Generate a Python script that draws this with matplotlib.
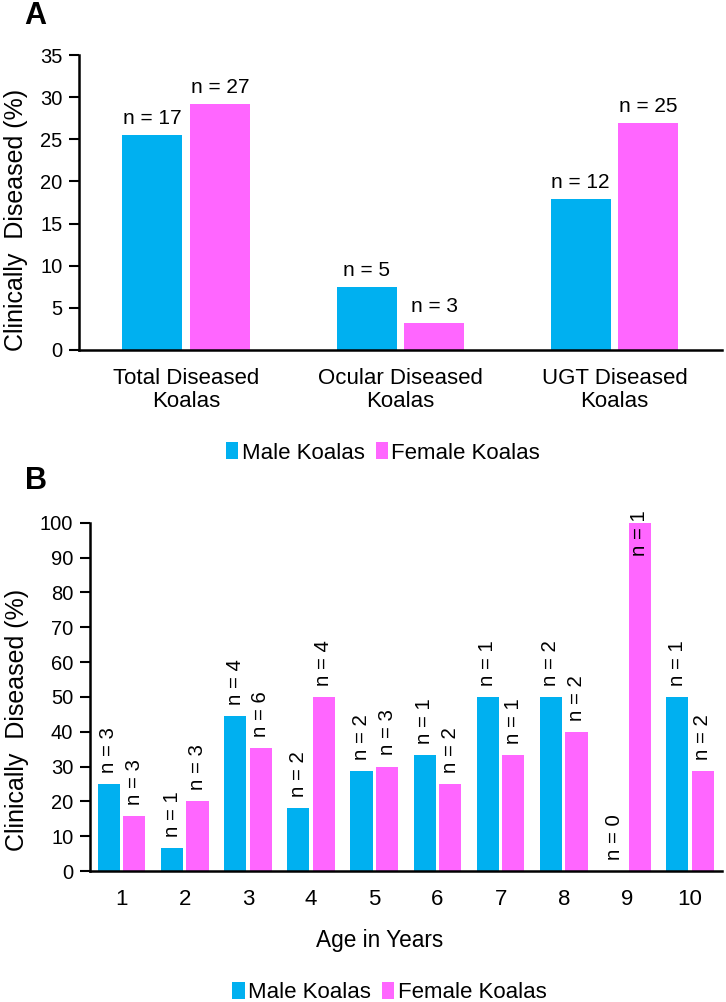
import matplotlib.pyplot as plt
import numpy as np

plt.rcParams['font.family'] = ['Liberation Sans', 'DejaVu Sans']

MALE = '#00B0F0'
FEMALE = '#FF66FF'

# panel A
groups = ['Total Diseased\nKoalas', 'Ocular Diseased\nKoalas', 'UGT Diseased\nKoalas']
male_a = [25.5, 7.5, 17.9]
female_a = [29.2, 3.2, 26.9]
male_n_a = [17, 5, 12]
female_n_a = [27, 3, 25]

# panel B
ages = ['1', '2', '3', '4', '5', '6', '7', '8', '9', '10']
male_b = [25.0, 6.7, 44.4, 18.2, 28.6, 33.3, 50.0, 50.0, 0.0, 50.0]
female_b = [15.8, 20.0, 35.3, 50.0, 30.0, 25.0, 33.3, 40.0, 100.0, 28.6]
male_n_b = [3, 1, 4, 2, 2, 1, 1, 2, 0, 1]
female_n_b = [3, 3, 6, 4, 3, 2, 1, 2, 1, 2]

fig = plt.figure(figsize=(7.26, 10.02), dpi=100)
axA = fig.add_axes([0.109, 0.6507, 0.885, 0.2944])
axB = fig.add_axes([0.124, 0.1307, 0.870, 0.3476])

def style(ax, pad):
    for s in ['top', 'right']:
        ax.spines[s].set_visible(False)
    for s in ['left', 'bottom']:
        ax.spines[s].set_linewidth(1.8)
    ax.tick_params(axis='y', length=7, width=1.5, labelsize=14.5, pad=5)
    ax.tick_params(axis='x', length=0, labelsize=16, pad=pad)
    ax.set_ylabel('Clinically  Diseased (%)', fontsize=18, va='center')

# A
x = np.arange(len(groups))
w, g = 0.28, 0.018
bm = axA.bar(x - w/2 - g, male_a, w, color=MALE, label='Male Koalas')
bf = axA.bar(x + w/2 + g, female_a, w, color=FEMALE, label='Female Koalas')
for bars, ns in [(bm, male_n_a), (bf, female_n_a)]:
    for b, n in zip(bars, ns):
        axA.annotate(f'n = {n}', (b.get_x() + b.get_width()/2, b.get_height()), xytext=(0, 5),
                     textcoords='offset points', ha='center', va='bottom', fontsize=15)
axA.set_xlim(-0.5, 2.5)
axA.set_ylim(0, 35)
axA.set_yticks(np.arange(0, 36, 5))
axA.set_xticks(x)
axA.set_xticklabels(groups, linespacing=1.15)
style(axA, 13)
axA.yaxis.set_label_coords(-0.098, 0.44)
axA.legend(loc='center', bbox_to_anchor=(0.473, -0.349), ncol=2, frameon=False, fontsize=16,
           handlelength=0.55, handleheight=0.8, handletextpad=0.15, columnspacing=0.5)
fig.text(0.034, 0.984, 'A', fontsize=22, fontweight='bold', ha='left', va='center')

# B
x = np.arange(len(ages))
w, g = 0.35, 0.027
bm = axB.bar(x - w/2 - g, male_b, w, color=MALE, label='Male Koalas')
bf = axB.bar(x + w/2 + g, female_b, w, color=FEMALE, label='Female Koalas')
for bars, ns in [(bm, male_n_b), (bf, female_n_b)]:
    for b, n in zip(bars, ns):
        cx = b.get_x() + b.get_width()/2
        h = b.get_height()
        if h >= 95:
            axB.annotate(f'n = {n}', (cx, h), xytext=(0, 9), textcoords='offset points',
                         ha='center', va='top', rotation=90, fontsize=14.7, annotation_clip=False)
        else:
            axB.annotate(f'n = {n}', (cx, h), xytext=(0, 8), textcoords='offset points',
                         ha='center', va='bottom', rotation=90, fontsize=14.7)
axB.set_xlim(-0.5, 9.5)
axB.set_ylim(0, 100)
axB.set_yticks(np.arange(0, 101, 10))
axB.set_xticks(x)
axB.set_xticklabels(ages)
style(axB, 13)
axB.yaxis.set_label_coords(-0.116, 0.434)
axB.set_xlabel('Age in Years', fontsize=16.3, va='center')
axB.xaxis.set_label_coords(0.458, -0.198)
axB.legend(loc='center', bbox_to_anchor=(0.474, -0.348), ncol=2, frameon=False, fontsize=16,
           handlelength=0.55, handleheight=0.8, handletextpad=0.15, columnspacing=0.5)
fig.text(0.034, 0.52, 'B', fontsize=22, fontweight='bold', ha='left', va='center')

fig.savefig('out.png', dpi=100)
